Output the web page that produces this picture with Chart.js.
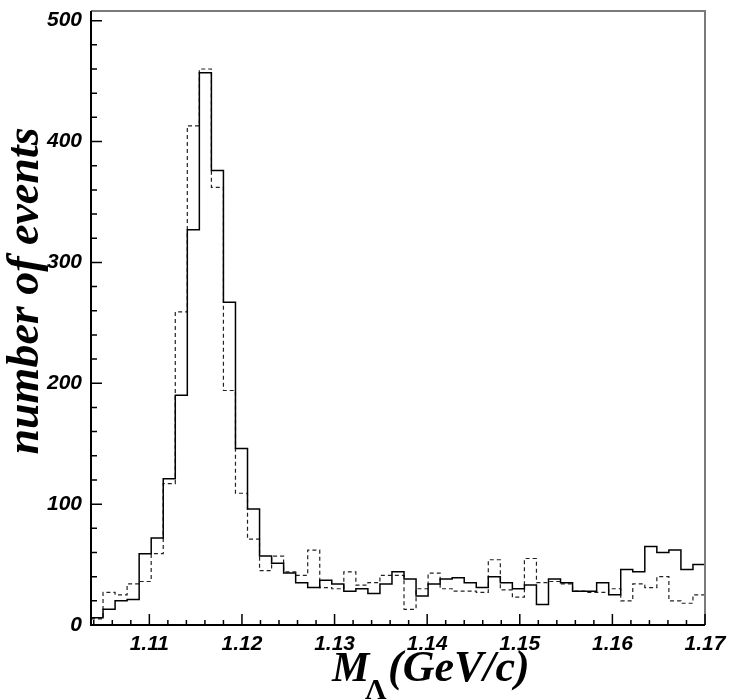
<!DOCTYPE html>
<html>
<head>
<meta charset="utf-8">
<script src="https://cdn.jsdelivr.net/npm/chart.js@4.4.1/dist/chart.umd.min.js"></script>
<style>
  html, body { margin: 0; padding: 0; background: #fff; }
  #plot { display: block; }
</style>
</head>
<body>
<canvas id="plot" width="733" height="700"></canvas>
<script>
// histogram binning (GeV/c^2)
const xMin = 1.1037;
const xMax = 1.17;
const binWidth = 0.0013;
const yMax = 508;

// counts per bin
const solidCounts = [
  6, 13, 20, 21, 59, 72, 121, 190, 327, 457,
  376, 267, 146, 96, 57, 51, 43, 35, 31, 37,
  34, 28, 30, 26, 34, 44, 38, 24, 34, 38,
  39, 35, 31, 40, 35, 30, 33, 17, 38, 35,
  28, 28, 35, 25, 46, 44, 65, 60, 62, 46,
  50
];
const dashedCounts = [
  5, 27, 25, 34, 36, 59, 117, 259, 413, 460,
  362, 194, 109, 71, 45, 57, 44, 41, 62, 31,
  30, 44, 33, 35, 41, 41, 13, 30, 43, 30,
  28, 28, 27, 54, 29, 23, 55, 35, 36, 34,
  28, 27, 27, 30, 20, 34, 31, 40, 20, 18,
  25
];

const xTickValues = [1.11, 1.12, 1.13, 1.14, 1.15, 1.16, 1.17];
const yTickValues = [0, 100, 200, 300, 400, 500];

// turn bin counts into step points (left edges + closing right edge)
function toSteps(counts) {
  const pts = counts.map((c, i) => ({ x: xMin + i * binWidth, y: c }));
  pts.push({ x: xMin + counts.length * binWidth, y: counts[counts.length - 1] });
  return pts;
}

// ---------- frame, inward ticks and axis titles ----------
const frameAndTitles = {
  id: "frameAndTitles",
  afterDatasetsDraw(chart) {
    const { ctx, chartArea: a, scales } = chart;
    const xs = scales.x, ys = scales.y;
    ctx.save();

    // top and right frame in grey
    ctx.strokeStyle = "#7a7a7a";
    ctx.lineWidth = 2;
    ctx.beginPath();
    ctx.moveTo(a.left, a.top);
    ctx.lineTo(a.right, a.top);
    ctx.lineTo(a.right, a.bottom);
    ctx.stroke();

    // left and bottom axes
    ctx.strokeStyle = "#000";
    ctx.lineWidth = 2;
    ctx.beginPath();
    ctx.moveTo(a.left, a.top);
    ctx.lineTo(a.left, a.bottom);
    ctx.lineTo(a.right, a.bottom);
    ctx.stroke();

    ctx.lineWidth = 1.5;
    ctx.beginPath();
    // x ticks: minor every 0.002
    for (let v = 1.104; v <= xMax + 1e-9; v += 0.002) {
      const px = xs.getPixelForValue(v);
      const major = xTickValues.some(t => Math.abs(t - v) < 1e-6);
      ctx.moveTo(px, a.bottom);
      ctx.lineTo(px, a.bottom - (major ? 11 : 5));
    }
    // y ticks: minor every 20
    for (let v = 0; v <= yMax; v += 20) {
      const py = ys.getPixelForValue(v);
      const major = v % 100 === 0;
      ctx.moveTo(a.left, py);
      ctx.lineTo(a.left + (major ? 11 : 6), py);
    }
    ctx.stroke();

    // y title
    ctx.fillStyle = "#000";
    ctx.save();
    ctx.translate(38, 291);
    ctx.rotate(-Math.PI / 2);
    ctx.font = "italic bold 46px 'Liberation Serif'";
    ctx.textAlign = "center";
    ctx.textBaseline = "alphabetic";
    ctx.fillText("number of events", 0, 0);
    ctx.restore();

    // x title with subscript Lambda
    ctx.textAlign = "left";
    ctx.textBaseline = "alphabetic";
    ctx.font = "italic bold 42px 'Liberation Serif'";
    ctx.fillText("M", 332, 681);
    ctx.font = "bold 30px 'Liberation Serif'";
    ctx.fillText("Λ", 365, 699);
    ctx.font = "italic bold 44px 'Liberation Serif'";
    ctx.fillText("(GeV/c)", 388, 681);

    ctx.restore();
  }
};

const tickFont = { family: "'Liberation Sans'", size: 21, style: "italic", weight: "bold" };

new Chart(document.getElementById("plot"), {
  type: "line",
  data: {
    datasets: [
      {
        label: "solid",
        data: toSteps(solidCounts),
        borderColor: "#000",
        borderWidth: 1.5,
        stepped: "before",
        pointRadius: 0,
        fill: false
      },
      {
        label: "dashed",
        data: toSteps(dashedCounts),
        borderColor: "#222",
        borderWidth: 1.2,
        borderDash: [4, 3],
        stepped: "before",
        pointRadius: 0,
        fill: false
      }
    ]
  },
  options: {
    responsive: false,
    animation: false,
    layout: { padding: { top: 11, right: 28, left: 0, bottom: 0 } },
    plugins: {
      legend: { display: false },
      tooltip: { enabled: false }
    },
    scales: {
      x: {
        type: "linear",
        min: xMin,
        max: xMax,
        grid: { display: false, drawTicks: false },
        border: { display: false },
        afterBuildTicks: s => { s.ticks = xTickValues.map(v => ({ value: v })); },
        afterFit: s => { s.height = 75; s.paddingLeft = 0; s.paddingRight = 0; },
        ticks: {
          padding: 7,
          color: "#000",
          font: tickFont,
          maxRotation: 0,
          autoSkip: false,
          callback: v => v.toFixed(2)
        }
      },
      y: {
        min: 0,
        max: yMax,
        grid: { display: false, drawTicks: false },
        border: { display: false },
        afterBuildTicks: s => { s.ticks = yTickValues.map(v => ({ value: v })); },
        afterFit: s => { s.width = 91; s.paddingTop = 0; s.paddingBottom = 0; },
        ticks: {
          padding: 9,
          color: "#000",
          font: tickFont,
          callback: v => String(v)
        }
      }
    }
  },
  plugins: [frameAndTitles]
});
</script>
</body>
</html>
